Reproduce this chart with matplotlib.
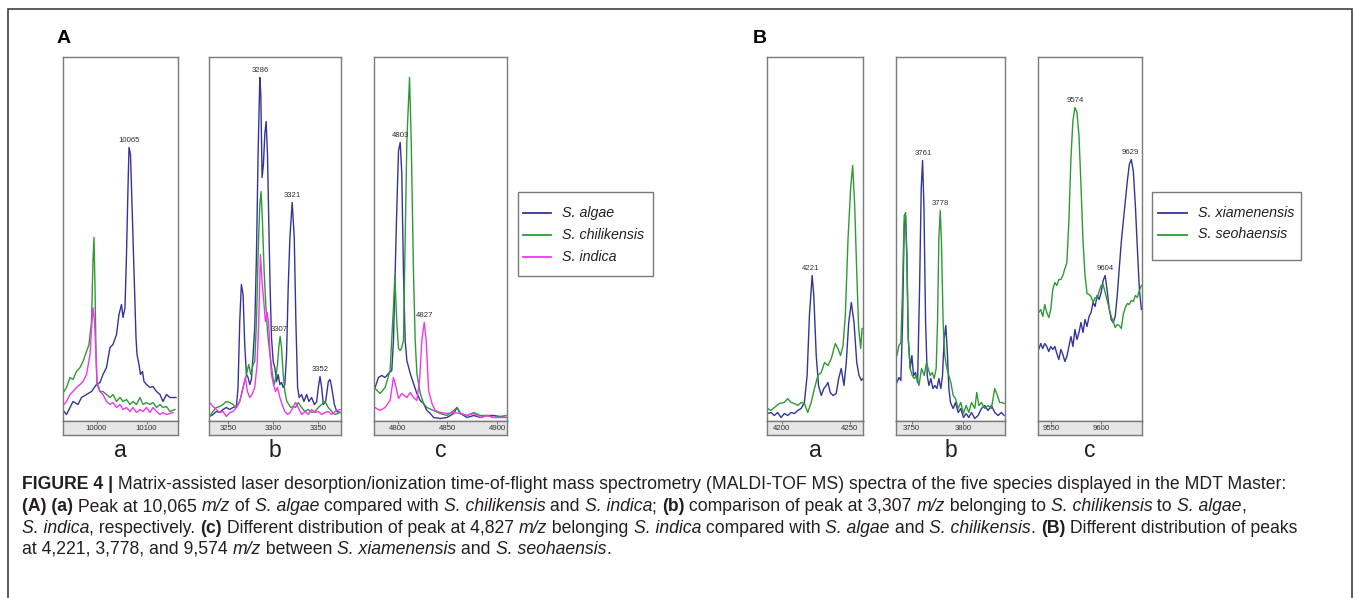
import matplotlib
matplotlib.use("Agg")
import numpy as np
import matplotlib.pyplot as plt
from matplotlib.patches import Rectangle
from matplotlib.lines import Line2D

plt.rcParams['font.family'] = ['Liberation Sans', 'DejaVu Sans']

W, H = 1357, 598

BLUE = '#34349a'
GREEN = '#2f9a35'
MAGENTA = '#f236f2'

# ---- panel A (a): around 10065 m/z ----
aa_mz_algae = [9935, 9940, 9947, 9953, 9963, 9970, 9980, 9990, 10000, 10007, 10013, 10020,
               10027, 10033, 10040, 10045, 10050, 10053, 10057, 10060, 10063, 10065, 10068,
               10071, 10075, 10079, 10081, 10085, 10088, 10092, 10095, 10100, 10107, 10113,
               10120, 10127, 10133, 10140, 10147, 10159]
aa_int_algae = [9, 6, 13, 19, 16, 23, 26, 29, 36, 38, 46, 53, 73, 76, 86, 106, 116, 103, 113,
                166, 233, 273, 266, 216, 149, 83, 66, 56, 46, 49, 39, 36, 33, 34, 29, 26, 19,
                26, 23, 23]
aa_mz_chili = [9935, 9940, 9947, 9953, 9960, 9967, 9973, 9980, 9985, 9990, 9993, 9995, 9997,
               9999, 10001, 10007, 10013, 10020, 10027, 10033, 10040, 10047, 10053, 10060,
               10067, 10073, 10080, 10087, 10093, 10100, 10107, 10113, 10120, 10127, 10133,
               10140, 10147, 10157]
aa_int_chili = [29, 33, 43, 41, 49, 53, 59, 69, 76, 99, 160, 183, 133, 66, 36, 29, 29, 26, 23,
                26, 19, 23, 19, 21, 16, 19, 16, 23, 16, 18, 16, 18, 13, 16, 13, 14, 9, 11]
aa_mz_indica = [9935, 9940, 9947, 9953, 9960, 9967, 9973, 9980, 9987, 9991, 9993, 9996, 9999,
                10001, 10007, 10013, 10020, 10027, 10033, 10040, 10047, 10053, 10060, 10067,
                10073, 10080, 10087, 10093, 10100, 10107, 10113, 10120, 10127, 10133, 10140,
                10153]
aa_int_indica = [16, 19, 26, 29, 33, 36, 39, 46, 66, 99, 113, 99, 66, 39, 29, 26, 19, 16, 18,
                 13, 16, 11, 13, 9, 13, 8, 11, 9, 13, 8, 13, 9, 6, 8, 6, 8]

# ---- panel A (b): around 3300 m/z ----
ab_mz_algae = [3229.7, 3233.4, 3237.1, 3240.8, 3244.5, 3248.2, 3251.9, 3255.6, 3259.3, 3261.1,
               3263.0, 3264.8, 3266.7, 3268.5, 3270.4, 3272.2, 3274.1, 3275.9, 3277.8, 3279.6,
               3281.5, 3283.3, 3285.2, 3286.3, 3287.7, 3289.2, 3290.7, 3292.2, 3293.7, 3295.1,
               3296.6, 3298.1, 3300.0, 3301.8, 3303.7, 3305.5, 3307.4, 3309.2, 3311.1, 3312.9,
               3314.8, 3316.6, 3318.5, 3321.0, 3323.3, 3325.1, 3327.0, 3328.8, 3331.4, 3334.0,
               3337.0, 3339.5, 3342.5, 3345.5, 3348.1, 3349.9, 3351.8, 3353.6, 3355.5, 3358.0,
               3361.0, 3362.9, 3364.7, 3367.7, 3370.3, 3374.0]
ab_int_algae = [4, 6, 9, 8, 11, 13, 11, 13, 14, 33, 99, 136, 126, 76, 46, 43, 36, 41, 66, 93,
                166, 266, 343, 326, 243, 256, 286, 299, 266, 199, 133, 83, 59, 53, 39, 46, 36,
                38, 33, 36, 66, 133, 183, 218, 183, 99, 33, 23, 26, 19, 26, 19, 23, 16, 19, 33,
                44, 33, 16, 19, 39, 41, 33, 16, 9, 8]
ab_mz_chili = [3229.7, 3233.4, 3237.1, 3240.8, 3244.5, 3248.2, 3251.9, 3255.6, 3259.3, 3263.0,
               3266.7, 3270.4, 3272.9, 3275.2, 3277.8, 3279.6, 3281.5, 3283.3, 3285.2, 3286.6,
               3288.1, 3290.0, 3291.8, 3293.7, 3295.5, 3297.4, 3299.2, 3301.1, 3302.9, 3304.8,
               3306.2, 3307.7, 3309.2, 3311.1, 3312.9, 3315.1, 3317.3, 3319.6, 3322.2, 3324.7,
               3327.7, 3331.4, 3335.1, 3338.8, 3342.5, 3346.2, 3349.9, 3353.6, 3357.3, 3361.0,
               3364.7, 3368.4, 3374.0]
ab_int_chili = [4, 9, 13, 14, 16, 19, 18, 16, 13, 19, 33, 46, 56, 46, 56, 59, 99, 166, 216, 229,
                199, 149, 116, 89, 73, 59, 46, 36, 43, 56, 73, 84, 73, 46, 29, 19, 16, 13, 14,
                13, 18, 13, 9, 11, 8, 9, 13, 16, 19, 13, 9, 6, 8]
ab_mz_indica = [3229.7, 3233.4, 3237.1, 3240.8, 3244.5, 3248.2, 3251.9, 3255.6, 3259.3, 3263.0,
                3266.7, 3269.2, 3271.5, 3274.1, 3276.6, 3279.6, 3282.2, 3284.0, 3285.9, 3287.7,
                3289.6, 3291.4, 3293.3, 3294.8, 3296.6, 3298.1, 3300.3, 3302.5, 3304.8, 3307.4,
                3309.9, 3312.9, 3315.9, 3318.8, 3321.8, 3324.7, 3327.7, 3331.4, 3335.1, 3338.8,
                3342.5, 3346.2, 3349.9, 3353.6, 3357.3, 3361.0, 3364.7, 3368.4, 3374.0]
ab_int_indica = [18, 14, 11, 8, 9, 4, 8, 9, 13, 19, 33, 43, 29, 23, 26, 33, 56, 99, 166, 139,
                 119, 99, 108, 99, 66, 46, 36, 29, 33, 23, 16, 9, 6, 8, 13, 18, 13, 6, 9, 6, 11,
                 8, 9, 6, 8, 9, 6, 9, 11]

# ---- panel A (c): around 4800 m/z ----
ac_mz_algae = [4777.1, 4780.5, 4783.8, 4787.2, 4790.6, 4793.9, 4795.6, 4797.3, 4799.0, 4800.7,
               4802.4, 4804.0, 4805.7, 4807.4, 4809.1, 4812.5, 4815.8, 4819.2, 4822.6, 4825.9,
               4829.3, 4832.7, 4836.1, 4842.8, 4849.5, 4856.3, 4859.6, 4863.0, 4869.8, 4876.5,
               4883.2, 4890.0, 4896.7, 4909.0]
ac_int_algae = [33, 43, 45, 43, 47, 50, 80, 147, 213, 270, 278, 247, 147, 80, 60, 47, 37, 27,
                20, 17, 10, 7, 3, 2, 3, 7, 13, 7, 3, 5, 3, 5, 5, 3]
ac_mz_chili = [4777.1, 4782.1, 4787.2, 4792.2, 4795.6, 4797.0, 4799.0, 4800.7, 4802.4, 4804.0,
               4805.7, 4807.4, 4809.1, 4811.8, 4813.5, 4815.8, 4817.5, 4819.2, 4822.6, 4825.9,
               4829.3, 4836.1, 4842.8, 4849.5, 4856.3, 4859.6, 4863.0, 4869.8, 4876.5, 4883.2,
               4890.0, 4896.7, 4909.0]
ac_int_chili = [32, 27, 33, 50, 113, 145, 97, 72, 70, 73, 80, 180, 280, 343, 280, 147, 80, 47,
                27, 17, 13, 10, 7, 5, 10, 13, 7, 5, 8, 5, 5, 3, 5]
ac_mz_indica = [4777.1, 4782.1, 4787.2, 4792.2, 4795.6, 4797.3, 4800.7, 4804.0, 4809.1, 4812.5,
                4815.8, 4819.2, 4821.9, 4824.2, 4826.6, 4828.6, 4831.0, 4834.4, 4837.7, 4842.8,
                4849.5, 4856.3, 4863.0, 4869.8, 4876.5, 4883.2, 4890.0, 4896.7, 4909.0]
ac_int_indica = [13, 10, 13, 20, 43, 37, 22, 27, 23, 28, 23, 20, 40, 80, 98, 80, 30, 17, 10, 8,
                 7, 8, 7, 5, 7, 3, 5, 3, 3]

# ---- panel B (a): around 4220 m/z ----
ba_mz_xiam = [4189.7, 4192.1, 4194.6, 4197.0, 4199.5, 4202.0, 4204.4, 4206.9, 4209.4, 4211.8,
              4214.3, 4216.7, 4218.7, 4220.4, 4222.4, 4223.6, 4225.4, 4227.1, 4229.1, 4231.0,
              4232.8, 4234.0, 4235.7, 4237.7, 4240.1, 4241.9, 4243.8, 4245.8, 4247.5, 4249.3,
              4251.2, 4253.2, 4255.2, 4256.9, 4258.6, 4259.8]
ba_int_xiam = [7, 8, 5, 8, 3, 7, 5, 8, 7, 10, 12, 18, 45, 105, 145, 125, 65, 35, 25, 32, 35, 38,
               28, 25, 27, 42, 52, 35, 58, 98, 118, 98, 58, 45, 40, 42]
ba_mz_seoh = [4189.7, 4192.1, 4194.6, 4198.3, 4202.0, 4204.4, 4206.9, 4209.4, 4211.8, 4214.3,
              4216.7, 4219.2, 4221.7, 4224.1, 4226.6, 4229.1, 4231.5, 4234.0, 4236.5, 4239.4,
              4241.4, 4243.3, 4245.1, 4246.8, 4248.8, 4250.7, 4252.2, 4253.7, 4255.2, 4256.6,
              4258.1, 4259.1, 4259.8]
ba_int_seoh = [12, 10, 13, 17, 18, 22, 18, 17, 15, 18, 17, 8, 18, 32, 45, 48, 58, 55, 62, 77,
               72, 65, 75, 105, 182, 232, 255, 215, 148, 92, 72, 92, 92]

# ---- panel B (b): around 3770 m/z ----
bb_mz_xiam = [3735.9, 3737.8, 3739.7, 3741.3, 3742.9, 3744.2, 3745.5, 3746.8, 3748.7, 3750.3,
              3751.9, 3753.8, 3755.8, 3757.7, 3759.3, 3760.6, 3761.9, 3763.5, 3765.1, 3766.7,
              3768.6, 3770.5, 3772.4, 3774.4, 3776.3, 3778.2, 3779.8, 3781.4, 3783.0, 3784.6,
              3785.9, 3787.5, 3790.1, 3792.3, 3794.9, 3797.4, 3800.0, 3802.6, 3805.1, 3807.7,
              3810.9, 3814.1, 3817.3, 3820.5, 3823.7, 3826.9, 3830.1, 3833.3, 3836.5, 3839.1]
bb_int_xiam = [38, 43, 40, 98, 195, 205, 165, 82, 52, 65, 45, 48, 38, 132, 232, 260, 215, 98,
               45, 35, 42, 32, 35, 32, 42, 32, 45, 82, 95, 65, 32, 18, 12, 18, 8, 12, 3, 7, 3, 8,
               2, 5, 12, 15, 10, 15, 8, 5, 8, 5]
bb_mz_seoh = [3735.9, 3737.8, 3739.7, 3741.3, 3742.9, 3744.2, 3745.5, 3746.8, 3748.7, 3750.6,
              3752.6, 3754.8, 3757.1, 3759.6, 3762.2, 3764.4, 3766.0, 3767.9, 3769.9, 3771.8,
              3773.7, 3775.0, 3776.3, 3777.6, 3778.8, 3780.4, 3782.0, 3784.0, 3785.9, 3787.8,
              3790.1, 3792.3, 3794.9, 3797.4, 3800.0, 3802.6, 3805.1, 3807.7, 3810.9, 3812.8,
              3814.8, 3817.3, 3820.5, 3823.7, 3826.9, 3830.1, 3832.7, 3834.9, 3837.2, 3839.1]
bb_int_seoh = [65, 75, 78, 132, 205, 208, 158, 82, 52, 45, 42, 45, 35, 52, 45, 58, 52, 45, 48,
               42, 52, 98, 182, 210, 178, 98, 65, 52, 45, 38, 25, 22, 12, 18, 7, 15, 8, 18, 12,
               28, 15, 18, 12, 15, 12, 32, 25, 18, 18, 17]

# ---- panel B (c): around 9600 m/z ----
bc_mz = [9538, 9540, 9542, 9544, 9546, 9548, 9550, 9552, 9554, 9556, 9558, 9560, 9562, 9564,
         9566, 9568, 9570, 9572, 9574, 9576, 9578, 9580, 9582, 9584, 9586, 9588, 9590, 9592,
         9594, 9596, 9598, 9600, 9602, 9604, 9606, 9608, 9610, 9612, 9614, 9616, 9618, 9620,
         9622, 9624, 9626, 9628, 9630, 9632, 9634, 9636, 9638, 9640]
bc_int_xiam = [71, 77, 72, 77, 74, 69, 74, 71, 74, 67, 61, 71, 66, 59, 64, 74, 84, 74, 91, 81,
               88, 98, 88, 101, 94, 104, 108, 118, 114, 125, 121, 128, 140, 145, 130, 112, 101,
               98, 104, 125, 152, 178, 199, 219, 239, 256, 261, 249, 215, 172, 131, 111]
bc_int_seoh = [108, 111, 104, 116, 108, 103, 111, 131, 138, 135, 141, 141, 145, 152, 158, 200,
               262, 300, 313, 308, 285, 235, 180, 145, 127, 126, 124, 118, 123, 122, 129, 135,
               136, 128, 120, 112, 104, 99, 93, 96, 95, 92, 106, 113, 117, 116, 120, 119, 125,
               123, 130, 135]

species_a = ['S. algae', 'S. chilikensis', 'S. indica']
species_b = ['S. xiamenensis', 'S. seohaensis']
colors_a = [BLUE, GREEN, MAGENTA]
colors_b = [BLUE, GREEN]

panels = [
    dict(box=(63, 178), xlim=(9933, 10163), ticks=[10000, 10100], tag='a',
         series=[(aa_mz_algae, aa_int_algae, BLUE), (aa_mz_chili, aa_int_chili, GREEN),
                 (aa_mz_indica, aa_int_indica, MAGENTA)],
         peaks=[(0, 10065)]),
    dict(box=(209, 341), xlim=(3229, 3375), ticks=[3250, 3300, 3350], tag='b',
         series=[(ab_mz_algae, ab_int_algae, BLUE), (ab_mz_chili, ab_int_chili, GREEN),
                 (ab_mz_indica, ab_int_indica, MAGENTA)],
         peaks=[(0, 3286), (0, 3321), (0, 3352), (1, 3307)]),
    dict(box=(374, 507), xlim=(4776, 4910), ticks=[4800, 4850, 4900], tag='c',
         series=[(ac_mz_algae, ac_int_algae, BLUE), (ac_mz_chili, ac_int_chili, GREEN),
                 (ac_mz_indica, ac_int_indica, MAGENTA)],
         peaks=[(0, 4803), (2, 4827)]),
    dict(box=(767, 863), xlim=(4189.2, 4259.8), ticks=[4200, 4250], tag='a',
         series=[(ba_mz_xiam, ba_int_xiam, BLUE), (ba_mz_seoh, ba_int_seoh, GREEN)],
         peaks=[(0, 4221)]),
    dict(box=(896, 1005), xlim=(3735, 3840), ticks=[3750, 3800], tag='b',
         series=[(bb_mz_xiam, bb_int_xiam, BLUE), (bb_mz_seoh, bb_int_seoh, GREEN)],
         peaks=[(0, 3761), (1, 3778)]),
    dict(box=(1038, 1142), xlim=(9537.3, 9640.6), ticks=[9550, 9600], tag='c',
         series=[(bc_mz, bc_int_xiam, BLUE), (bc_mz, bc_int_seoh, GREEN)],
         peaks=[(1, 9574), (0, 9604), (0, 9629)]),
]

BOX_TOP, STRIP_TOP, BOX_BOTTOM = 56.5, 420.5, 435
EDGE = '#7a7a7a'


def fig_rect(x0, y0, x1, y1):
    """pixel box (top-left origin) -> figure fraction rect"""
    return [x0 / W, 1 - y1 / H, (x1 - x0) / W, (y1 - y0) / H]


fig = plt.figure(figsize=(W / 100, H / 100), dpi=100)
fig.patch.set_facecolor('white')

# outer frame (its bottom edge lies below the picture)
fig.add_artist(Rectangle((8 / W, 1 - 640 / H), (1352 - 8) / W, (640 - 9) / H,
                         transform=fig.transFigure, fill=False, edgecolor='#404040',
                         linewidth=1.2))

for p in panels:
    x0, x1 = p['box']
    ax = fig.add_axes(fig_rect(x0, BOX_TOP, x1, STRIP_TOP))
    for mz, inten, col in p['series']:
        ax.plot(mz, inten, color=col, linewidth=1.0)
    ax.set_xlim(*p['xlim'])
    ax.set_ylim(0, STRIP_TOP - BOX_TOP)
    ax.set_xticks([])
    ax.set_yticks([])
    for sp in ax.spines.values():
        sp.set_color(EDGE)
        sp.set_linewidth(1.0)
    for idx, m in p['peaks']:
        mz, inten, col = p['series'][idx]
        mz = np.asarray(mz, float)
        inten = np.asarray(inten, float)
        near = np.abs(mz - m) <= 2.5
        top = inten[near].max()
        ax.annotate(str(m), (m, top), xytext=(0, 2.5), textcoords='offset points',
                    ha='center', va='bottom', fontsize=5.6, color='#303030')

    strip = fig.add_axes(fig_rect(x0, STRIP_TOP, x1, BOX_BOTTOM))
    strip.set_facecolor('#e6e6e6')
    strip.set_xlim(*p['xlim'])
    strip.set_ylim(0, 1)
    strip.set_yticks([])
    strip.set_xticks(p['ticks'])
    strip.xaxis.set_ticks_position('top')
    strip.tick_params(axis='x', direction='in', length=2.5, width=0.6, color='#606060',
                      labeltop=False, labelbottom=False)
    for t in p['ticks']:
        strip.text(t, 0.42, str(t), transform=strip.get_xaxis_transform(),
                   ha='center', va='center', fontsize=5.6, color='#303030')
    for sp in strip.spines.values():
        sp.set_color(EDGE)
        sp.set_linewidth(1.0)

    fig.text((x0 + x1) / 2 / W, 1 - 457 / H, p['tag'], ha='center', va='baseline',
             fontsize=16.5, color='#202020')

fig.text(57 / W, 1 - 43 / H, 'A', fontsize=14, fontweight='bold', va='baseline')
fig.text(753 / W, 1 - 43 / H, 'B', fontsize=14, fontweight='bold', va='baseline')


def draw_legend(x0, y0, x1, y1, names, cols, first_y, step, line_x, text_x):
    fig.add_artist(Rectangle((x0 / W, 1 - y1 / H), (x1 - x0) / W, (y1 - y0) / H,
                             transform=fig.transFigure, fill=False, edgecolor=EDGE,
                             linewidth=1.0))
    for i, (name, col) in enumerate(zip(names, cols)):
        y = first_y + i * step
        fig.add_artist(Line2D([line_x[0] / W, line_x[1] / W], [1 - y / H, 1 - y / H],
                              transform=fig.transFigure, color=col, linewidth=1.3))
        fig.text(text_x / W, 1 - y / H, name, fontsize=10.3, fontstyle='italic',
                 va='center', ha='left', color='#202020')


draw_legend(518, 192, 653, 276, species_a, colors_a, 213, 22, (523, 551), 562)
draw_legend(1152, 192, 1301, 260, species_b, colors_b, 213, 21.5, (1158, 1187), 1198)

# ---- caption with mixed styles ----
CAP_FONT = ['Liberation Sans', 'DejaVu Sans']
CAP_SIZE = 12.7
R, B_, I = ('normal', 'normal'), ('bold', 'normal'), ('normal', 'italic')

caption_lines = [
    [("FIGURE 4 |", B_),
     (" Matrix-assisted laser desorption/ionization time-of-flight mass spectrometry "
      "(MALDI-TOF MS) spectra of the five species displayed in the MDT Master:", R)],
    [("(A) (a)", B_), (" Peak at 10,065 ", R), ("m/z", I), (" of ", R), ("S. algae", I),
     (" compared with ", R), ("S. chilikensis", I), (" and ", R), ("S. indica", I), ("; ", R),
     ("(b)", B_), (" comparison of peak at 3,307 ", R), ("m/z", I), (" belonging to ", R),
     ("S. chilikensis", I), (" to ", R), ("S. algae", I), (",", R)],
    [("S. indica", I), (", respectively. ", R), ("(c)", B_),
     (" Different distribution of peak at 4,827 ", R), ("m/z", I), (" belonging ", R),
     ("S. indica", I), (" compared with ", R), ("S. algae", I), (" and ", R),
     ("S. chilikensis", I), (". ", R), ("(B)", B_), (" Different distribution of peaks", R)],
    [("at 4,221, 3,778, and 9,574 ", R), ("m/z", I), (" between ", R), ("S. xiamenensis", I),
     (" and ", R), ("S. seohaensis", I), (".", R)],
]
caption_baselines = [489, 511, 533, 554]

renderer = fig.canvas.get_renderer()


def run_width(s, weight, style):
    # width including trailing blanks: measure with a bar and remove it
    t1 = fig.text(0, 0, s + '|', fontsize=CAP_SIZE, fontweight=weight, fontstyle=style,
                  family=CAP_FONT)
    t2 = fig.text(0, 0, '|', fontsize=CAP_SIZE, fontweight=weight, fontstyle=style,
                  family=CAP_FONT)
    w = t1.get_window_extent(renderer).width - t2.get_window_extent(renderer).width
    t1.remove()
    t2.remove()
    return w


for runs, yb in zip(caption_lines, caption_baselines):
    x = 22.0
    for s, (weight, style) in runs:
        fig.text(x / W, 1 - yb / H, s, fontsize=CAP_SIZE, fontweight=weight,
                 fontstyle=style, family=CAP_FONT, va='baseline', ha='left',
                 color='#231f20')
        x += run_width(s, weight, style)

fig.savefig('out.png', dpi=100, facecolor='white')
